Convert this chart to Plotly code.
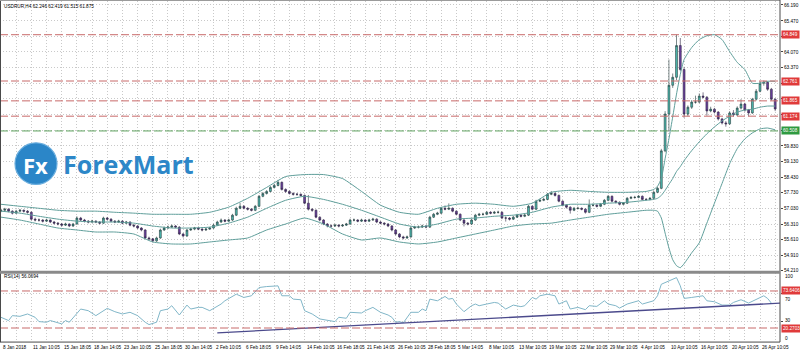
import plotly.graph_objects as go

# ---------------- data ----------------
title_text = "USDRUR,H4 62.246 62.419 61.515 61.875"
rsi_title = "RSI(14) 56.0694"

first_open = 56.89
closes = [56.93, 56.98, 56.89, 56.80, 56.89, 56.93, 56.89, 56.84, 56.53, 56.49,
          56.49, 56.44, 56.49, 56.40, 56.35, 56.31, 56.26, 56.31, 56.22, 56.31,
          56.58, 56.49, 56.44, 56.40, 56.44, 56.40, 56.35, 56.58, 56.53, 56.44,
          56.40, 56.44, 56.35, 56.40, 56.26, 56.22, 56.13, 56.04, 55.68, 55.64,
          55.55, 55.68, 56.04, 56.13, 56.17, 56.22, 56.17, 55.86, 55.77, 56.04,
          56.08, 56.13, 56.08, 56.04, 56.08, 56.13, 56.26, 56.40, 56.49, 56.44,
          56.49, 56.71, 57.02, 57.11, 57.02, 56.98, 56.93, 57.11, 57.56, 57.69,
          57.78, 57.96, 58.05, 58.19, 57.87, 57.78, 57.69, 57.65, 57.65, 57.60,
          57.25, 56.98, 56.93, 56.62, 56.49, 56.31, 56.22, 56.22, 56.26, 56.22,
          56.26, 56.31, 56.49, 56.49, 56.44, 56.49, 56.44, 56.49, 56.53, 56.40,
          56.35, 56.31, 56.22, 56.04, 55.86, 55.73, 55.68, 55.73, 56.13, 56.17,
          56.17, 56.22, 56.17, 56.62, 56.75, 56.80, 57.02, 56.98, 57.02, 56.89,
          56.75, 56.49, 56.35, 56.31, 56.49, 56.71, 56.75, 56.75, 56.84, 56.80,
          56.84, 56.84, 56.58, 56.58, 56.53, 56.62, 56.71, 56.66, 56.71, 57.11,
          56.98, 57.34, 57.38, 57.42, 57.65, 57.69, 57.60, 57.34, 57.16, 57.07,
          56.93, 57.02, 57.02, 56.98, 56.84, 57.16, 57.16, 57.11, 57.20, 57.38,
          57.56, 57.34, 57.29, 57.20, 57.25, 57.47, 57.51, 57.51, 57.56, 57.42,
          57.42, 57.47, 57.74, 57.92, 59.61, 61.27, 62.57, 62.93, 64.36, 63.28,
          61.27, 61.58, 61.81, 61.81, 62.08, 62.03, 61.41, 61.49, 61.36, 61.05,
          60.87, 60.83, 61.32, 61.23, 61.54, 61.72, 61.45, 61.32, 61.94, 62.30,
          62.66, 62.70, 62.39, 61.94, 61.50]
highs = [57.00, 57.04, 57.02, 56.93, 56.95, 56.99, 56.97, 56.94, 56.88, 56.60,
         56.56, 56.53, 56.55, 56.52, 56.45, 56.40, 56.36, 56.37, 56.34, 56.36,
         56.66, 56.63, 56.54, 56.49, 56.50, 56.48, 56.44, 56.64, 56.63, 56.57,
         56.49, 56.50, 56.48, 56.45, 56.43, 56.31, 56.26, 56.17, 56.08, 55.74,
         55.68, 55.74, 56.10, 56.20, 56.24, 56.28, 56.26, 56.21, 55.90, 56.09,
         56.14, 56.18, 56.17, 56.12, 56.14, 56.18, 56.32, 56.46, 56.56, 56.53,
         56.55, 56.77, 57.09, 57.26, 57.16, 57.07, 57.03, 57.17, 57.62, 57.75,
         57.84, 58.02, 58.12, 58.30, 58.23, 57.92, 57.83, 57.74, 57.71, 57.69,
         57.64, 57.62, 57.02, 56.97, 56.66, 56.53, 56.35, 56.29, 56.32, 56.30,
         56.31, 56.36, 56.55, 56.56, 56.53, 56.55, 56.53, 56.55, 56.59, 56.57,
         56.44, 56.39, 56.35, 56.26, 56.08, 55.90, 55.78, 55.79, 56.19, 56.23,
         56.24, 56.28, 56.26, 56.68, 56.81, 56.86, 57.08, 57.15, 57.24, 57.06,
         56.93, 56.79, 56.53, 56.40, 56.55, 56.77, 56.81, 56.82, 56.90, 56.89,
         56.90, 56.91, 56.88, 56.65, 56.62, 56.68, 56.77, 56.75, 56.77, 57.17,
         57.15, 57.40, 57.44, 57.50, 57.71, 57.80, 57.74, 57.64, 57.38, 57.20,
         57.11, 57.08, 57.09, 57.06, 57.02, 57.42, 57.23, 57.20, 57.26, 57.44,
         57.62, 57.60, 57.38, 57.33, 57.30, 57.53, 57.57, 57.58, 57.62, 57.60,
         57.48, 57.53, 57.80, 57.99, 59.70, 61.40, 63.73, 63.10, 64.85, 64.70,
         63.40, 61.66, 61.90, 62.10, 62.20, 62.25, 62.08, 61.60, 61.55, 61.40,
         61.10, 60.95, 61.40, 61.45, 61.62, 61.94, 61.78, 61.50, 62.00, 62.40,
         62.76, 62.78, 62.75, 62.45, 61.98]
lows = [56.84, 56.90, 56.84, 56.74, 56.77, 56.85, 56.83, 56.78, 56.48, 56.43,
        56.42, 56.38, 56.40, 56.35, 56.29, 56.25, 56.20, 56.22, 56.17, 56.18,
        56.28, 56.44, 56.38, 56.34, 56.36, 56.35, 56.30, 56.32, 56.48, 56.39,
        56.35, 56.36, 56.30, 56.31, 56.21, 56.16, 56.08, 55.98, 55.62, 55.57,
        55.48, 55.50, 55.64, 56.00, 56.09, 56.13, 56.12, 55.81, 55.70, 55.73,
        56.00, 56.03, 56.03, 55.98, 56.00, 56.04, 56.09, 56.22, 56.36, 56.39,
        56.40, 56.45, 56.67, 56.98, 56.97, 56.92, 56.88, 56.89, 57.07, 57.52,
        57.64, 57.74, 57.91, 58.01, 57.82, 57.72, 57.64, 57.59, 57.58, 57.55,
        57.20, 56.92, 56.86, 56.57, 56.43, 56.26, 56.16, 56.15, 56.18, 56.16,
        56.18, 56.22, 56.27, 56.43, 56.39, 56.40, 56.39, 56.40, 56.45, 56.35,
        56.30, 56.25, 56.17, 55.98, 55.80, 55.67, 55.62, 55.64, 55.69, 56.09,
        56.11, 56.13, 56.12, 56.13, 56.58, 56.71, 56.76, 56.93, 56.94, 56.84,
        56.70, 56.44, 56.20, 56.25, 56.27, 56.45, 56.67, 56.69, 56.71, 56.75,
        56.76, 56.78, 56.53, 56.42, 56.47, 56.49, 56.58, 56.61, 56.62, 56.67,
        56.93, 56.94, 57.30, 57.34, 57.38, 57.61, 57.55, 57.29, 57.11, 57.01,
        56.78, 56.89, 56.96, 56.93, 56.78, 56.80, 57.10, 57.06, 57.07, 57.16,
        57.34, 57.29, 57.24, 57.15, 57.16, 57.21, 57.43, 57.45, 57.47, 57.37,
        57.36, 57.38, 57.43, 57.70, 57.88, 59.55, 60.47, 62.45, 62.80, 63.20,
        61.10, 61.17, 61.50, 61.74, 61.76, 61.98, 61.20, 61.35, 61.30, 60.98,
        60.80, 60.70, 60.78, 61.15, 61.18, 61.48, 61.38, 61.17, 61.28, 61.88,
        62.25, 62.55, 62.32, 61.88, 61.40]

bb_idx = [0, 5, 10, 15, 20, 25, 30, 35, 40, 45, 50, 55, 60, 65, 70, 75, 80, 85,
          90, 95, 100, 105, 110, 115, 120, 125, 130, 135, 140, 145, 150, 155, 160,
          165, 170, 172, 173, 174, 175, 176, 177, 178, 179, 180, 182, 184, 186,
          188, 190, 192, 194, 196, 198, 200, 202, 204]
bb_upper = [57.20, 57.11, 57.02, 56.93, 56.89, 56.89, 56.84, 56.80, 56.75, 56.75,
            56.75, 56.84, 57.07, 57.47, 57.96, 58.45, 58.54, 58.54, 58.36, 57.78,
            57.16, 56.84, 56.75, 57.02, 57.20, 57.25, 57.20, 57.11, 57.25, 57.74,
            57.83, 57.78, 57.74, 57.74, 57.78, 57.87, 58.01, 58.36, 59.26, 60.15,
            61.14, 62.17, 63.06, 63.73, 64.27, 64.63, 64.80, 64.85, 64.63, 64.09,
            63.60, 63.28, 62.66, 62.66, 62.75, 62.75]
bb_middle = [56.89, 56.80, 56.66, 56.53, 56.44, 56.40, 56.40, 56.35, 56.22, 56.13,
             56.13, 56.17, 56.35, 56.62, 57.02, 57.38, 57.56, 57.42, 57.20, 56.93,
             56.62, 56.31, 56.17, 56.31, 56.53, 56.58, 56.66, 56.71, 56.84, 57.07,
             57.20, 57.20, 57.25, 57.29, 57.38, 57.42, 57.47, 57.60, 57.83, 58.10,
             58.36, 58.68, 58.90, 59.17, 59.62, 60.02, 60.38, 60.69, 60.96, 61.18,
             61.36, 61.45, 61.49, 61.58, 61.63, 61.63]
bb_lower = [56.62, 56.49, 56.31, 56.13, 56.04, 55.95, 55.95, 55.86, 55.50, 55.41,
            55.41, 55.50, 55.59, 55.68, 56.04, 56.31, 56.58, 56.31, 55.86, 55.59,
            55.68, 55.50, 55.41, 55.50, 55.68, 55.86, 56.04, 56.22, 56.31, 56.35,
            56.49, 56.62, 56.75, 56.84, 56.93, 56.93, 56.89, 56.58, 55.90, 55.23,
            54.70, 54.43, 54.34, 54.52, 55.01, 55.46, 56.35, 57.25, 58.14, 59.03,
            59.71, 60.15, 60.42, 60.60, 60.64, 60.56]

rsi_idx = [0, 2, 3, 5, 7, 9, 10, 12, 13, 16, 17, 18, 21, 23, 25, 28, 30, 32, 34, 36,
           38, 39, 41, 42, 44, 45, 47, 49, 50, 52, 53, 55, 58, 59, 62, 64, 66, 68, 70,
           73, 74, 76, 77, 79, 80, 82, 84, 88, 89, 91, 92, 95, 96, 98, 100, 102, 103,
           104, 105, 106, 108, 110, 111, 112, 113, 115, 117, 118, 119, 120, 122, 124,
           125, 126, 128, 130, 131, 133, 135, 137, 138, 140, 141, 142, 144, 146, 147,
           149, 150, 152, 154, 155, 157, 159, 160, 162, 163, 165, 168, 169, 172, 173,
           174, 175, 177, 178, 179, 180, 182, 185, 186, 188, 190, 192, 193, 195, 197,
           199, 201, 202, 203]
rsi_val = [35.7, 31.0, 38.1, 37.1, 40.5, 35.7, 29.5, 28.6, 31.0, 26.2, 31.0, 28.6,
           47.6, 45.2, 38.1, 48.6, 43.8, 40.5, 42.9, 38.1, 28.6, 25.2, 28.6, 45.2,
           47.6, 52.4, 39.0, 53.3, 47.6, 50.0, 50.0, 45.2, 54.8, 59.5, 69.0, 64.3,
           66.7, 78.6, 80.0, 81.0, 66.7, 66.7, 61.9, 61.0, 45.2, 40.5, 33.3, 29.5,
           35.7, 34.3, 42.9, 41.9, 45.2, 50.0, 42.9, 39.0, 35.7, 28.6, 29.5, 27.6,
           42.9, 42.9, 47.6, 45.2, 61.9, 59.5, 65.7, 61.9, 62.9, 54.8, 43.8, 52.4,
           54.8, 52.4, 54.8, 57.1, 56.2, 47.6, 53.3, 51.0, 52.4, 64.3, 61.9, 66.7,
           69.0, 66.7, 54.8, 59.5, 47.6, 50.0, 46.7, 52.4, 51.4, 59.5, 54.8, 52.4,
           49.0, 54.8, 59.5, 54.8, 59.5, 66.7, 83.3, 85.7, 90.5, 92.9, 81.0, 62.9,
           64.3, 66.7, 59.5, 58.1, 53.3, 53.3, 57.1, 61.0, 56.2, 61.0, 66.7, 62.9,
           56.1]

rsi_trend_idx = [57, 205.3]
rsi_trend_val = [13.3, 56.1]

red_levels = [64.849, 62.761, 61.865, 61.174]
green_levels = [60.508]
rsi_levels = [73.6406, 20.2703]

price_ticks = [66.19, 65.47, 64.77, 64.07, 63.37, 62.65, 61.95, 61.25, 60.55,
               59.83, 59.13, 58.43, 57.73, 57.03, 56.31, 55.61, 54.91, 54.21]
# tick labels that sit under a level box are not printed (only the grid line shows)
hidden_ticks = [64.77, 62.65, 61.95, 61.25, 60.55]
rsi_grid = [70, 30]
rsi_scale_labels = ["100", "70", "30", "0"]

time_labels = ["8 Jan 2018", "11 Jan 10:05", "15 Jan 18:05", "18 Jan 14:05",
               "23 Jan 10:05", "25 Jan 18:05", "30 Jan 14:05", "2 Feb 10:05",
               "6 Feb 18:05", "9 Feb 14:05", "14 Feb 10:05", "16 Feb 18:05",
               "21 Feb 14:05", "26 Feb 10:05", "28 Feb 18:05", "5 Mar 14:05",
               "8 Mar 10:05", "13 Mar 10:05", "19 Mar 10:05", "22 Mar 10:05",
               "29 Mar 10:05", "4 Apr 10:05", "10 Apr 10:05", "16 Apr 10:05",
               "20 Apr 10:05", "26 Apr 10:05"]
time_label_step = 8

# ---------------- figure ----------------
W, H = 800, 354
def px_x(p):
    return p / W
def px_y(p):
    return 1 - p / H

opens = [first_open] + closes[:-1]
idx = list(range(len(closes)))

FONT = "Liberation Sans"
FS = 4.7
GRID = "#c9c9c9"
BB_COL = "#5f9e9a"

fig = go.Figure()

for band in (bb_upper, bb_middle, bb_lower):
    fig.add_trace(go.Scatter(x=bb_idx, y=band, mode="lines",
                             line=dict(color=BB_COL, width=1, shape="spline", smoothing=0.5),
                             hoverinfo="skip", xaxis="x", yaxis="y"))

fig.add_trace(go.Candlestick(
    x=idx, open=opens, high=highs, low=lows, close=closes,
    increasing=dict(line=dict(color="#24393a", width=0.6), fillcolor="#4dbdb2"),
    decreasing=dict(line=dict(color="#2c2440", width=0.6), fillcolor="#6b3fa0"),
    whiskerwidth=0, hoverinfo="skip", xaxis="x", yaxis="y"))

fig.add_trace(go.Scatter(x=rsi_idx, y=rsi_val, mode="lines",
                         line=dict(color="#80b6c8", width=1),
                         hoverinfo="skip", xaxis="x2", yaxis="y2"))
fig.add_trace(go.Scatter(x=rsi_trend_idx, y=rsi_trend_val, mode="lines",
                         line=dict(color="#4b4a8c", width=1.3),
                         hoverinfo="skip", xaxis="x2", yaxis="y2"))

x_range = [-0.26, 205.27]
main_dom = [px_y(273), px_y(1)]
rsi_dom = [px_y(345), px_y(275)]
x_dom = [0, px_x(780)]

price_text = ["" if v in hidden_ticks else f"{v:.3f}" for v in price_ticks]

fig.update_layout(
    width=W, height=H, margin=dict(l=0, r=0, t=0, b=0),
    paper_bgcolor="white", plot_bgcolor="white", showlegend=False,
    font=dict(family=FONT, size=FS, color="#000"),
    xaxis=dict(domain=x_dom, range=x_range, anchor="y", showticklabels=False,
               showgrid=True, gridcolor=GRID, griddash="1px,2px", tick0=0, dtick=4,
               zeroline=False, showline=False, rangeslider=dict(visible=False), ticks=""),
    yaxis=dict(domain=main_dom, range=[54.205, 66.37], anchor="x", side="right",
               tickvals=price_ticks, ticktext=price_text,
               tickfont=dict(size=FS, color="#000", family=FONT),
               ticks="outside", ticklen=2, tickcolor="#444",
               showgrid=True, gridcolor=GRID, griddash="1px,2px", zeroline=False),
    xaxis2=dict(domain=x_dom, range=x_range, anchor="y2", matches="x", showticklabels=False,
                showgrid=True, gridcolor=GRID, griddash="1px,2px", tick0=0, dtick=4,
                zeroline=False, ticks=""),
    yaxis2=dict(domain=rsi_dom, range=[0, 100], anchor="x2", side="right",
                tickvals=rsi_grid, showticklabels=False,
                ticks="outside", ticklen=2, tickcolor="#444",
                showgrid=True, gridcolor=GRID, griddash="1px,2px", zeroline=False),
)

shapes = []
for v in red_levels:
    shapes.append(dict(type="line", xref="x domain", yref="y", x0=0, x1=1, y0=v, y1=v,
                       line=dict(color="#c86a6a", width=1, dash="8px,3px")))
for v in green_levels:
    shapes.append(dict(type="line", xref="x domain", yref="y", x0=0, x1=1, y0=v, y1=v,
                       line=dict(color="#5fa25f", width=1, dash="8px,3px")))
for v in rsi_levels:
    shapes.append(dict(type="line", xref="x2 domain", yref="y2", x0=0, x1=1, y0=v, y1=v,
                       line=dict(color="#c86a6a", width=1, dash="8px,3px")))
frame_col = "#4a4a4a"
shapes += [
    dict(type="line", xref="paper", yref="paper", x0=px_x(0.5), x1=px_x(0.5), y0=px_y(0), y1=px_y(345),
         line=dict(color=frame_col, width=1)),
    dict(type="line", xref="paper", yref="paper", x0=px_x(0), x1=px_x(780), y0=px_y(0.5), y1=px_y(0.5),
         line=dict(color="#9a9a9a", width=1)),
    dict(type="line", xref="paper", yref="paper", x0=px_x(780), x1=px_x(780), y0=px_y(0), y1=px_y(345),
         line=dict(color=frame_col, width=1)),
    dict(type="line", xref="paper", yref="paper", x0=px_x(0), x1=px_x(780), y0=px_y(274.5), y1=px_y(274.5),
         line=dict(color="#8a8a8a", width=3)),
    dict(type="line", xref="paper", yref="paper", x0=px_x(0), x1=px_x(780), y0=px_y(345), y1=px_y(345),
         line=dict(color=frame_col, width=1)),
    dict(type="circle", xref="paper", yref="paper", x0=px_x(15), x1=px_x(57), y0=px_y(186), y1=px_y(144),
         fillcolor="#2b86c8", line=dict(color="#6aaede", width=1.2)),
]
fig.update_layout(shapes=shapes)

ann = []
ann.append(dict(text=title_text, xref="paper", yref="paper", x=px_x(2), y=px_y(7),
                xanchor="left", yanchor="middle", showarrow=False, font=dict(size=FS)))
ann.append(dict(text=rsi_title, xref="paper", yref="paper", x=px_x(2), y=px_y(279),
                xanchor="left", yanchor="middle", showarrow=False, font=dict(size=FS)))
for k, lab in enumerate(time_labels):
    ann.append(dict(text=lab, xref="x2", yref="paper", x=k * time_label_step, y=px_y(350),
                    xanchor="left", yanchor="middle", showarrow=False, font=dict(size=FS)))
for v in red_levels:
    ann.append(dict(text=f"{v:.3f}", xref="paper", yref="y", x=px_x(781), y=v,
                    xanchor="left", yanchor="middle", showarrow=False, bgcolor="#e03a3a",
                    borderpad=1, font=dict(size=FS, color="white")))
for v in green_levels:
    ann.append(dict(text=f"{v:.3f}", xref="paper", yref="y", x=px_x(781), y=v,
                    xanchor="left", yanchor="middle", showarrow=False, bgcolor="#2f9a40",
                    borderpad=1, font=dict(size=FS, color="white")))
for v in rsi_levels:
    ann.append(dict(text=f"{v:.4f}", xref="paper", yref="y2", x=px_x(781), y=v,
                    xanchor="left", yanchor="middle", showarrow=False, bgcolor="#e03a3a",
                    borderpad=1, font=dict(size=FS, color="white")))
# RSI scale labels as MT4 prints them (just inside the window edges)
for lab, py in zip(rsi_scale_labels, [279, 302, 323, 341]):
    ann.append(dict(text=lab, xref="paper", yref="paper", x=px_x(783), y=px_y(py),
                    xanchor="left", yanchor="middle", showarrow=False, font=dict(size=FS)))
ann.append(dict(text="<b>Fx</b>", xref="paper", yref="paper", x=px_x(35), y=px_y(166),
                xanchor="center", yanchor="middle", showarrow=False,
                font=dict(size=22, color="white", family="Open Sans")))
ann.append(dict(text="<b>ForexMart</b>", xref="paper", yref="paper", x=px_x(61), y=px_y(165),
                xanchor="left", yanchor="middle", showarrow=False,
                font=dict(size=25, color="#2d87c8", family="Open Sans")))
fig.update_layout(annotations=ann)

fig.write_html("out.html")
